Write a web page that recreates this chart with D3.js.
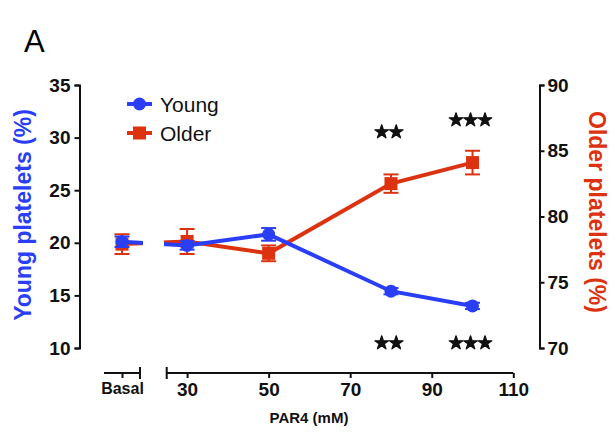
<!DOCTYPE html>
<html>
<head>
<meta charset="utf-8">
<script src="https://cdn.jsdelivr.net/npm/d3@7"></script>
<style>
  body { margin: 0; background: #fff; }
  svg text { font-family: "Liberation Sans", Arial, sans-serif; }
</style>
</head>
<body>
<svg id="chart" width="615" height="435"></svg>
<script>
// categories on x, "Basal" sits on its own little axis segment
var doses = ["Basal", 30, 50, 80, 100];
// young platelets (%), left axis
var youngMean = [20.1, 19.75, 20.8, 15.4, 14.0];
var youngErr = [0.5, 0.4, 0.6, 0.3, 0.3];
// older platelets (%), right axis
var olderMean = [77.9, 78.1, 77.2, 82.5, 84.1];
var olderErr = [0.75, 0.95, 0.6, 0.7, 0.9];
// significance marks (number of stars)
var sigTop = [0, 0, 0, 2, 3];
var sigBottom = [0, 0, 0, 2, 3];
// axis ticks
var xTicks = [30, 50, 70, 90, 110];
var yLeftTicks = [10, 15, 20, 25, 30, 35];
var yRightTicks = [70, 75, 80, 85, 90];

var blue = "#2a3ff5", red = "#dc3210";

var svg = d3.select("#chart");

//scales
var x = d3.scaleLinear().domain([25, 110]).range([166.7, 513.3]);
var xBasal = d3.scalePoint().domain(["Basal"]).range([104, 140]).padding(0.5);
var yL = d3.scaleLinear().domain([10, 35]).range([348, 85]);
var yR = d3.scaleLinear().domain([70, 90]).range([348, 85]);
var axisY = 373;

var xPos = function(d) { return d === "Basal" ? xBasal(d) : x(d); };

//panel letter
svg.append("text").attr("x", 24).attr("y", 52)
    .attr("font-size", 31).text("A");

//left axis
var gl = svg.append("g").attr("transform", "translate(79.5,0)")
    .call(d3.axisLeft(yL).tickValues(yLeftTicks).tickSize(5).tickPadding(4));
gl.selectAll("text").attr("font-size", 19).attr("font-weight", "bold").attr("fill", "#111");

//right axis
var gr = svg.append("g").attr("transform", "translate(539.5,0)")
    .call(d3.axisRight(yR).tickValues(yRightTicks).tickSize(5).tickPadding(3));
gr.selectAll("text").attr("font-size", 19).attr("font-weight", "bold").attr("fill", "#111");

//main x axis
var gx = svg.append("g").attr("transform", "translate(0," + axisY + ")")
    .call(d3.axisBottom(x).tickValues(xTicks).tickSize(5).tickPadding(5));
gx.selectAll("text").attr("font-size", 19).attr("font-weight", "bold").attr("fill", "#111");

//basal x axis segment
var gb = svg.append("g").attr("transform", "translate(0," + axisY + ")")
    .call(d3.axisBottom(xBasal).tickSize(5).tickPadding(5));
gb.selectAll("text").attr("font-size", 16).attr("font-weight", "bold").attr("fill", "#111");

svg.selectAll(".domain").attr("stroke", "#111").attr("stroke-width", 2);
svg.selectAll(".tick line").attr("stroke", "#111").attr("stroke-width", 2);
gb.select(".domain").attr("d", "M104,0H140");
gx.select(".domain").attr("d", "M166.7,0H513.3");

//break bars at axis ends
[140, 166.7].forEach(function(bx) {
    svg.append("line").attr("x1", bx).attr("x2", bx)
        .attr("y1", axisY - 6).attr("y2", axisY + 6)
        .attr("stroke", "#111").attr("stroke-width", 2);
});

//axis titles
svg.append("text").attr("transform", "translate(31,215) rotate(-90)")
    .attr("text-anchor", "middle").attr("font-size", 23).attr("font-weight", "bold")
    .attr("fill", blue).text("Young platelets (%)");
svg.append("text").attr("transform", "translate(589,212) rotate(90)")
    .attr("text-anchor", "middle").attr("font-size", 23).attr("font-weight", "bold")
    .attr("fill", red).text("Older platelets (%)");
svg.append("text").attr("x", 309).attr("y", 423)
    .attr("text-anchor", "middle").attr("font-size", 15).attr("font-weight", "bold")
    .attr("fill", "#111").text("PAR4 (mM)");

//clip so lines break in the axis gap
var defs = svg.append("defs");
var cp = defs.append("clipPath").attr("id", "gap");
cp.append("rect").attr("x", 0).attr("y", 0).attr("width", 143).attr("height", 435);
cp.append("rect").attr("x", 164).attr("y", 0).attr("width", 450).attr("height", 435);

var series = [
    {mean: olderMean, err: olderErr, y: yR, color: red, shape: "square"},
    {mean: youngMean, err: youngErr, y: yL, color: blue, shape: "circle"}
];

series.forEach(function(s) {
    var pts = doses.map(function(d, i) { return {x: xPos(d), y: s.y(s.mean[i]), lo: s.y(s.mean[i] - s.err[i]), hi: s.y(s.mean[i] + s.err[i])}; });
    var g = svg.append("g");

    g.append("path").datum(pts)
        .attr("clip-path", "url(#gap)")
        .attr("fill", "none").attr("stroke", s.color).attr("stroke-width", 4)
        .attr("d", d3.line().x(function(d) { return d.x; }).y(function(d) { return d.y; }));

    //error bars
    var eb = g.selectAll(".eb").data(pts).enter().append("g");
    eb.append("line").attr("x1", function(d) { return d.x; }).attr("x2", function(d) { return d.x; })
        .attr("y1", function(d) { return d.lo; }).attr("y2", function(d) { return d.hi; })
        .attr("stroke", s.color).attr("stroke-width", 2);
    eb.append("line").attr("x1", function(d) { return d.x - 7.5; }).attr("x2", function(d) { return d.x + 7.5; })
        .attr("y1", function(d) { return d.lo; }).attr("y2", function(d) { return d.lo; })
        .attr("stroke", s.color).attr("stroke-width", 2);
    eb.append("line").attr("x1", function(d) { return d.x - 7.5; }).attr("x2", function(d) { return d.x + 7.5; })
        .attr("y1", function(d) { return d.hi; }).attr("y2", function(d) { return d.hi; })
        .attr("stroke", s.color).attr("stroke-width", 2);

    //markers
    if (s.shape === "circle") {
        g.selectAll(".m").data(pts).enter().append("circle")
            .attr("cx", function(d) { return d.x; }).attr("cy", function(d) { return d.y; })
            .attr("r", 6.5).attr("fill", s.color);
    } else {
        g.selectAll(".m").data(pts).enter().append("rect")
            .attr("x", function(d) { return d.x - 6.5; }).attr("y", function(d) { return d.y - 6.5; })
            .attr("width", 13).attr("height", 13).attr("fill", s.color);
    }
});

//significance stars, drawn as star symbols
var star = d3.symbol().type(d3.symbolStar).size(58);
var starTopY = [0, 0, 0, 132, 120];
var starBottomY = 343;
var starGap = 14.5;
function drawStars(count, cx, cy) {
    for (var k = 0; k < count; k++) {
        var sx = cx + (k - (count - 1) / 2) * starGap;
        svg.append("path").attr("d", star)
            .attr("transform", "translate(" + sx + "," + cy + ")")
            .attr("fill", "#111").attr("stroke", "#111")
            .attr("stroke-width", 1.3).attr("stroke-linejoin", "round");
    }
}
doses.forEach(function(d, i) {
    drawStars(sigTop[i], xPos(d) - 2, starTopY[i]);
    drawStars(sigBottom[i], xPos(d) - 2, starBottomY);
});

//legend
var legend = [{name: "Young", color: blue, shape: "circle"}, {name: "Older", color: red, shape: "square"}];
legend.forEach(function(l, i) {
    var ly = 104 + i * 29;
    svg.append("line").attr("x1", 127).attr("x2", 152).attr("y1", ly).attr("y2", ly)
        .attr("stroke", l.color).attr("stroke-width", 4);
    if (l.shape === "circle") {
        svg.append("circle").attr("cx", 139.5).attr("cy", ly).attr("r", 6.5).attr("fill", l.color);
    } else {
        svg.append("rect").attr("x", 133).attr("y", ly - 6.5).attr("width", 13).attr("height", 13).attr("fill", l.color);
    }
    svg.append("text").attr("x", 160).attr("y", ly).attr("dy", "0.36em")
        .attr("font-size", 21).attr("fill", "#111").text(l.name);
});
</script>
</body>
</html>
